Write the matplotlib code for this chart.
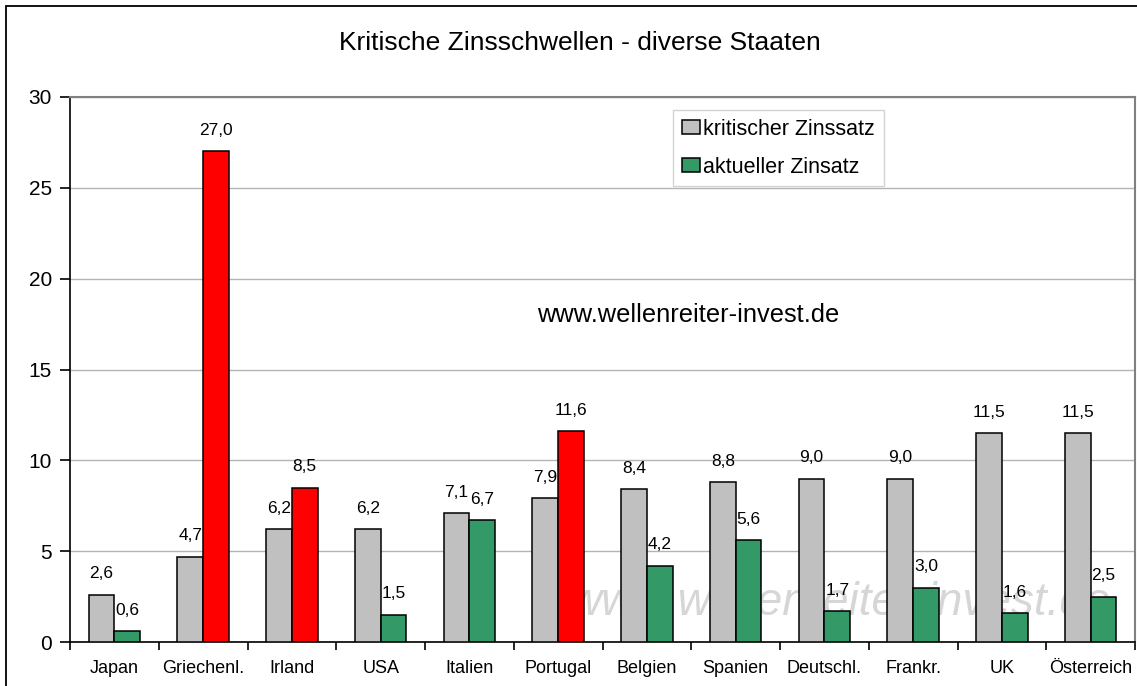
import numpy as np
import matplotlib
matplotlib.use("Agg")
import matplotlib.pyplot as plt
from matplotlib.patches import Rectangle

plt.rcParams['font.family'] = ['Liberation Sans', 'DejaVu Sans']

# Data
countries = ["Japan", "Griechenl.", "Irland", "USA", "Italien", "Portugal",
             "Belgien", "Spanien", "Deutschl.", "Frankr.", "UK", "Österreich"]
kritisch = [2.6, 4.7, 6.2, 6.2, 7.1, 7.9, 8.4, 8.8, 9.0, 9.0, 11.5, 11.5]
aktuell = [0.6, 27.0, 8.5, 1.5, 6.7, 11.6, 4.2, 5.6, 1.7, 3.0, 1.6, 2.5]
# countries where the current rate is above the critical one (drawn red)
ueber_schwelle = ["Griechenl.", "Irland", "Portugal"]

fig = plt.figure(figsize=(11.37, 6.86), dpi=100)
ax = fig.add_axes([70 / 1137, 1 - 642 / 686, 1065 / 1137, 545 / 686])

# outer chart frame
fig.patches.append(Rectangle((6 / 1137, -0.05), 1.2, 1.05 - 6 / 686,
                             transform=fig.transFigure, fill=False,
                             edgecolor='black', linewidth=1.3, zorder=0))

x = np.arange(len(countries))
w = 0.29
gruen = ['#FF0000' if c in ueber_schwelle else '#339966' for c in countries]

bars1 = ax.bar(x - w / 2, kritisch, w, color='#C0C0C0', edgecolor='black',
               linewidth=1.1, label='kritischer Zinssatz', zorder=3)
bars2 = ax.bar(x + w / 2, aktuell, w, color=gruen, edgecolor='black',
               linewidth=1.1, label='aktueller Zinsatz', zorder=3)

for bars, vals in [(bars1, kritisch), (bars2, aktuell)]:
    for b, v in zip(bars, vals):
        ax.annotate(f"{v:.1f}".replace('.', ','),
                    (b.get_x() + b.get_width() / 2, v),
                    xytext=(0, 15), textcoords='offset points',
                    ha='center', va='center', fontsize=12.5, zorder=4)

ax.set_xlim(-0.5, len(countries) - 0.5)
ax.set_ylim(0, 30)
ax.set_yticks(np.arange(0, 31, 5))
ax.tick_params(axis='y', labelsize=15, length=7, width=1.2, direction='out', pad=6)
ax.yaxis.grid(True, color='#B4B4B4', linewidth=1, zorder=0)

ax.set_xticks(x)
ax.set_xticklabels(countries, fontsize=13)
ax.tick_params(axis='x', which='major', length=0, pad=13)
ax.set_xticks(np.arange(-0.5, len(countries), 1), minor=True)
ax.tick_params(axis='x', which='minor', length=6, width=1.2, direction='out')

for s in ['left', 'bottom']:
    ax.spines[s].set_color('black')
    ax.spines[s].set_linewidth(1.2)
for s in ['top', 'right']:
    ax.spines[s].set_color('#808080')
    ax.spines[s].set_linewidth(1.5)

# watermarks
ax.text(0.58, 0.60, "www.wellenreiter-invest.de", transform=ax.transAxes,
        ha='center', va='center', fontsize=18.3)
ax.text(0.468, 0.05, "www.wellenreiter-invest.de", transform=ax.transAxes,
        ha='left', va='baseline', fontsize=33, style='italic',
        color='#D6D6D6', zorder=1, clip_on=True)

fig.text(0.51, 1 - 43 / 686, "Kritische Zinsschwellen - diverse Staaten",
         ha='center', va='center', fontsize=19)

leg = ax.legend(loc='upper left', bbox_to_anchor=(673 / 1137, 1 - 110 / 686),
                bbox_transform=fig.transFigure, fontsize=15.5, frameon=True,
                fancybox=False, edgecolor='#C8C8C8', handlelength=0.85,
                handleheight=0.6, handletextpad=0.15, labelspacing=0.8,
                borderpad=0.4, borderaxespad=0)
leg.get_frame().set_linewidth(1)
leg.legend_handles[1].set_facecolor('#339966')

fig.savefig("out.png", dpi=100)
